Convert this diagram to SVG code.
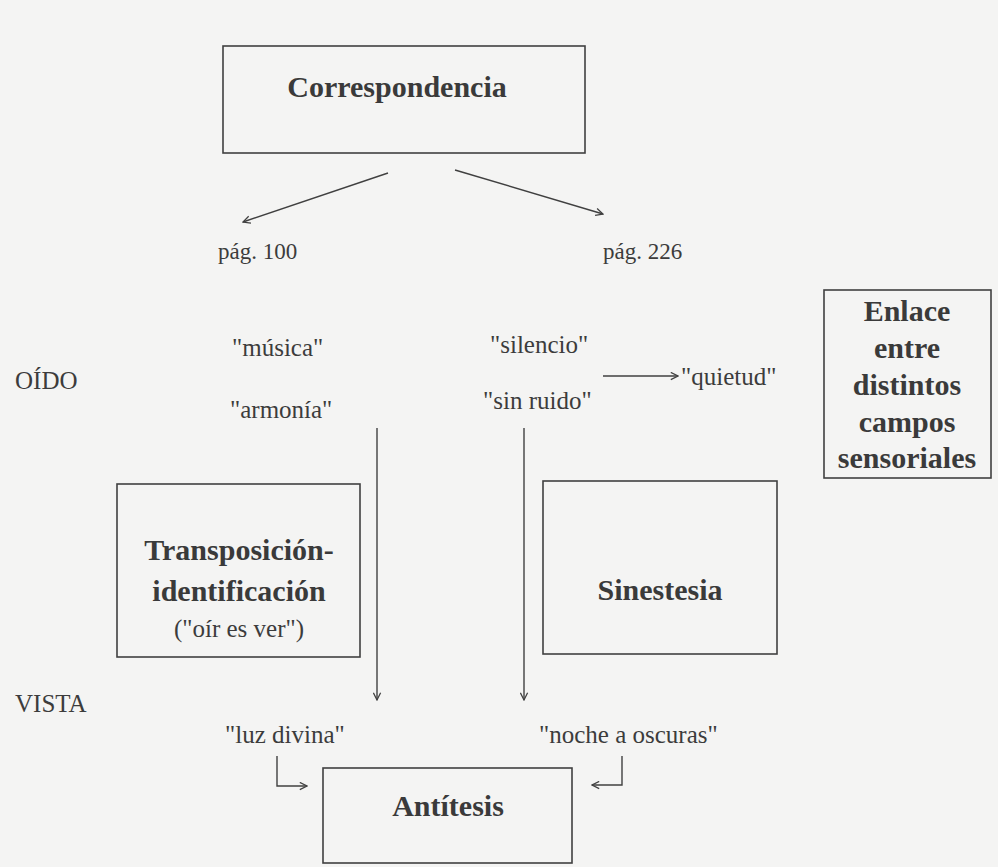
<svg xmlns="http://www.w3.org/2000/svg" width="998" height="867" viewBox="0 0 998 867">
<defs>
<style>
.bg{fill:#f4f4f3}
.box{fill:none;stroke:#404040;stroke-width:1.6}
.b{font-family:"Liberation Serif","Times New Roman",serif;font-weight:bold;font-size:30px;fill:#3a3a3a;text-anchor:middle}
.t{font-family:"Liberation Serif","Times New Roman",serif;font-size:25px;fill:#3c3c3c}
.p{font-size:23px}
.c{text-anchor:middle}
.ln{fill:none;stroke:#404040;stroke-width:1.4}
</style>
<marker id="ah" viewBox="0 0 10 10" refX="9" refY="5" markerWidth="9" markerHeight="9" markerUnits="userSpaceOnUse" orient="auto">
<path d="M1,1 L9,5 L1,9" fill="none" stroke="#404040" stroke-width="1.4"/>
</marker>
</defs>
<rect class="bg" x="0" y="0" width="998" height="867"/>

<g id="correspondencia">
<rect class="box" x="223" y="46" width="362" height="107"/>
<text class="b" x="397" y="97">Correspondencia</text>
</g>

<g id="pag100"><text class="t p" x="218" y="259">pág. 100</text></g>
<g id="pag226"><text class="t p" x="603" y="259">pág. 226</text></g>

<g id="oido"><text class="t" x="15" y="389">OÍDO</text></g>
<g id="musica"><text class="t" x="232" y="356">"música"</text></g>
<g id="armonia"><text class="t" x="230" y="418">"armonía"</text></g>
<g id="silencio"><text class="t" x="490" y="353">"silencio"</text></g>
<g id="sinruido"><text class="t" x="483" y="409">"sin ruido"</text></g>
<g id="quietud"><text class="t" x="681" y="385">"quietud"</text></g>

<g id="enlace">
<rect class="box" x="824" y="290" width="167" height="188"/>
<text class="b" x="907" y="321">Enlace</text>
<text class="b" x="907" y="358">entre</text>
<text class="b" x="907" y="395">distintos</text>
<text class="b" x="907" y="432">campos</text>
<text class="b" x="907" y="468">sensoriales</text>
</g>

<g id="transposicion">
<rect class="box" x="117" y="484" width="243" height="173"/>
<text class="b" x="239" y="560">Transposición-</text>
<text class="b" x="239" y="601">identificación</text>
<text class="t c" x="239" y="637">("oír es ver")</text>
</g>

<g id="sinestesia">
<rect class="box" x="543" y="481" width="234" height="173"/>
<text class="b" x="660" y="600">Sinestesia</text>
</g>

<g id="vista"><text class="t" x="15" y="712">VISTA</text></g>
<g id="luzdivina"><text class="t" x="225" y="743">"luz divina"</text></g>
<g id="noche"><text class="t" x="539" y="743">"noche a oscuras"</text></g>

<g id="antitesis">
<rect class="box" x="323" y="768" width="249" height="95"/>
<text class="b" x="448" y="816">Antítesis</text>
</g>

<g id="connectors">
<line class="ln" x1="388" y1="173" x2="243" y2="222" marker-end="url(#ah)"/>
<line class="ln" x1="455" y1="170" x2="603" y2="214" marker-end="url(#ah)"/>
<line class="ln" x1="603" y1="376" x2="678" y2="376" marker-end="url(#ah)"/>
<line class="ln" x1="377" y1="428" x2="377" y2="700" marker-end="url(#ah)"/>
<line class="ln" x1="524" y1="428" x2="524" y2="700" marker-end="url(#ah)"/>
<polyline class="ln" points="277,756 277,786 307,786" marker-end="url(#ah)"/>
<polyline class="ln" points="622,756 622,785 592,785" marker-end="url(#ah)"/>
</g>
</svg>
